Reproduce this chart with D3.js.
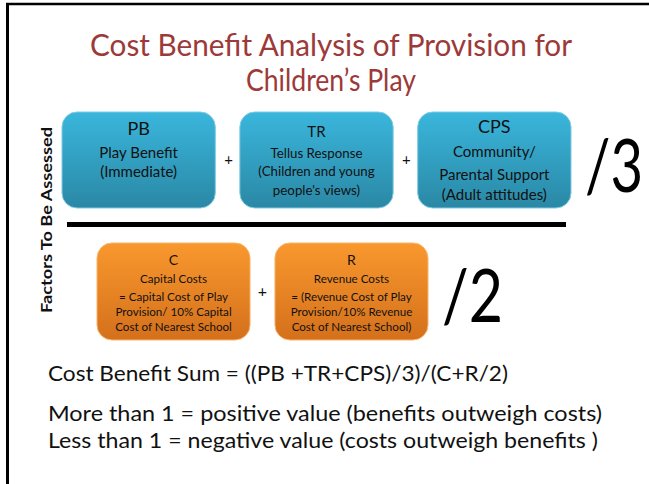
<!DOCTYPE html>
<html><head><meta charset="utf-8">
<script src="https://cdn.jsdelivr.net/npm/d3@7"></script>
<style>html,body{margin:0;padding:0;background:#fff;}svg{display:block;}</style>
</head><body>
<svg id="c" width="649" height="484"></svg>
<script>
const titleLines = ["Cost Benefit Analysis of Provision for", "Children\u2019s Play"];
const benefitCodes = ["PB", "TR", "CPS"];
const benefitLabels = [["Play Benefit", "(Immediate)"], ["Tellus Response", "(Children and young", "people's views)"], ["Community/", "Parental Support", "(Adult attitudes)"]];
const costCodes = ["C", "R"];
const costLabels = [["Capital Costs", "= Capital Cost of Play", "Provision/ 10% Capital", "Cost of Nearest School"], ["Revenue Costs", "= (Revenue Cost of Play", "Provision/10% Revenue", "Cost of Nearest School)"]];
const divisors = ["/3", "/2"];
const sideLabel = "Factors To Be Assessed";
const notes = ["Cost Benefit Sum = ((PB +TR+CPS)/3)/(C+R/2)", "More than 1 = positive value (benefits outweigh costs)", "Less than 1 = negative value (costs outweigh benefits )"];

const FONT = "Lato, 'Open Sans', sans-serif";
const svg = d3.select("#c");
const defs = svg.append("defs");
function grad(id, c1, c2) {
  const g = defs.append("linearGradient").attr("id", id).attr("x1", 0).attr("y1", 0).attr("x2", 0).attr("y2", 1);
  g.append("stop").attr("offset", "0%").attr("stop-color", c1);
  g.append("stop").attr("offset", "100%").attr("stop-color", c2);
}
grad("gBlue", "#3AB6DC", "#2A88A5");
grad("gOrange", "#F9982E", "#D4701B");

function fit(sel, w) {
  sel.each(function () {
    const len = this.getComputedTextLength();
    if (Math.abs(len - w) > 1) d3.select(this).attr("textLength", w).attr("lengthAdjust", "spacingAndGlyphs");
  });
}

// border
svg.append("line").attr("x1", 7.5).attr("x2", 7.5).attr("y1", 3).attr("y2", 484).attr("stroke", "#000").attr("stroke-width", 3);
svg.append("line").attr("x1", 6).attr("x2", 649).attr("y1", 4).attr("y2", 4).attr("stroke", "#000").attr("stroke-width", 2.5);

// title
const tw = [482, 170];
svg.selectAll("text.title").data(titleLines).join("text").attr("class", "title")
  .attr("x", 331).attr("y", (d, i) => 56 + i * 35).attr("text-anchor", "middle")
  .attr("font-family", FONT).attr("font-size", 30).attr("fill", "#9C3A39").text(d => d)
  .each(function (d, i) { fit(d3.select(this), tw[i]); });

// scales
const xB = d3.scaleBand().domain(benefitCodes).range([62, 571]).paddingInner(0.138).paddingOuter(0);
const xC = d3.scaleBand().domain(costCodes).range([97, 428]).paddingInner(0.14).paddingOuter(0);
const yRow = d3.scaleOrdinal().domain(["benefit", "cost"]).range([[112, 208], [243, 340]]);

// benefit boxes
const bRow = yRow("benefit");
const bg = svg.selectAll("g.b").data(benefitCodes).join("g").attr("class", "b")
  .attr("transform", d => `translate(${xB(d)},${bRow[0]})`);
bg.append("rect").attr("width", xB.bandwidth()).attr("height", bRow[1] - bRow[0]).attr("rx", 15).attr("ry", 15)
  .attr("fill", "url(#gBlue)").attr("stroke", "#7FCBE2").attr("stroke-width", 1);
const bCodeSize = [18, 15, 18];
const bCodeY = [23, 25, 21];
const bLabSize = [15, 13.3, 15];
const bLabY = [[46, 65], [46, 64, 83], [45, 68, 88]];
bg.append("text").attr("x", xB.bandwidth() / 2).attr("y", (d, i) => bCodeY[i]).attr("text-anchor", "middle")
  .attr("font-family", FONT).attr("font-size", (d, i) => bCodeSize[i]).attr("fill", "#111").text(d => d);
bg.each(function (d, i) {
  d3.select(this).selectAll("text.l").data(benefitLabels[i]).join("text").attr("class", "l")
    .attr("x", xB.bandwidth() / 2).attr("y", (t, j) => bLabY[i][j]).attr("text-anchor", "middle")
    .attr("font-family", FONT).attr("font-size", bLabSize[i]).attr("fill", "#111").text(t => t);
});
// plus signs
svg.selectAll("text.pb").data(benefitCodes.slice(1)).join("text").attr("class", "pb")
  .attr("x", d => xB(d) - xB.step() * xB.paddingInner() / 2 + 1).attr("y", 165).attr("text-anchor", "middle")
  .attr("font-family", FONT).attr("font-size", 15).attr("fill", "#111").text("+");

// fraction bar
svg.append("line").attr("x1", 67).attr("x2", 566).attr("y1", 224.5).attr("y2", 224.5).attr("stroke", "#000").attr("stroke-width", 5);

// cost boxes
const cRow = yRow("cost");
const cg = svg.selectAll("g.c").data(costCodes).join("g").attr("class", "c")
  .attr("transform", d => `translate(${xC(d)},${cRow[0]})`);
cg.append("rect").attr("width", xC.bandwidth()).attr("height", cRow[1] - cRow[0]).attr("rx", 15).attr("ry", 15)
  .attr("fill", "url(#gOrange)").attr("stroke", "#F8B46A").attr("stroke-width", 1);
cg.append("text").attr("x", xC.bandwidth() / 2).attr("y", 22).attr("text-anchor", "middle")
  .attr("font-family", FONT).attr("font-size", 14).attr("fill", "#111").text(d => d);
const cLabY = [40, 58, 73, 88];
cg.each(function (d, i) {
  d3.select(this).selectAll("text.l").data(costLabels[i]).join("text").attr("class", "l")
    .attr("x", xC.bandwidth() / 2).attr("y", (t, j) => cLabY[j]).attr("text-anchor", "middle")
    .attr("font-family", FONT).attr("font-size", 11.6).attr("fill", "#111").text(t => t);
});
svg.append("text").attr("x", (xC("C") + xC.bandwidth() + xC("R")) / 2).attr("y", 297).attr("text-anchor", "middle")
  .attr("font-family", FONT).attr("font-size", 16).attr("fill", "#111").text("+");

// divisors (slightly tall, narrow glyphs like the original)
svg.append("text").attr("transform", "translate(585,192) scale(1,1.2)").attr("font-family", FONT).attr("font-size", 62)
  .attr("fill", "#000").text(divisors[0]).call(fit, 58);
svg.append("text").attr("transform", "translate(442,322) scale(1,1.18)").attr("font-family", FONT).attr("font-size", 63)
  .attr("fill", "#000").text(divisors[1]).call(fit, 61);

// side label
svg.append("text").attr("transform", "translate(52,220) rotate(-90)").attr("text-anchor", "middle")
  .attr("font-family", FONT).attr("font-weight", "bold").attr("font-size", 15).attr("fill", "#111").text(sideLabel)
  .call(fit, 186);

// notes
const nw = [460, 554, 550];
const ny = [381, 421, 448];
svg.selectAll("text.n").data(notes).join("text").attr("class", "n")
  .attr("x", 48).attr("y", (d, i) => ny[i]).attr("font-family", FONT).attr("font-size", 21).attr("fill", "#111").text(d => d)
  .each(function (d, i) { fit(d3.select(this), nw[i]); });
</script>
</body></html>
